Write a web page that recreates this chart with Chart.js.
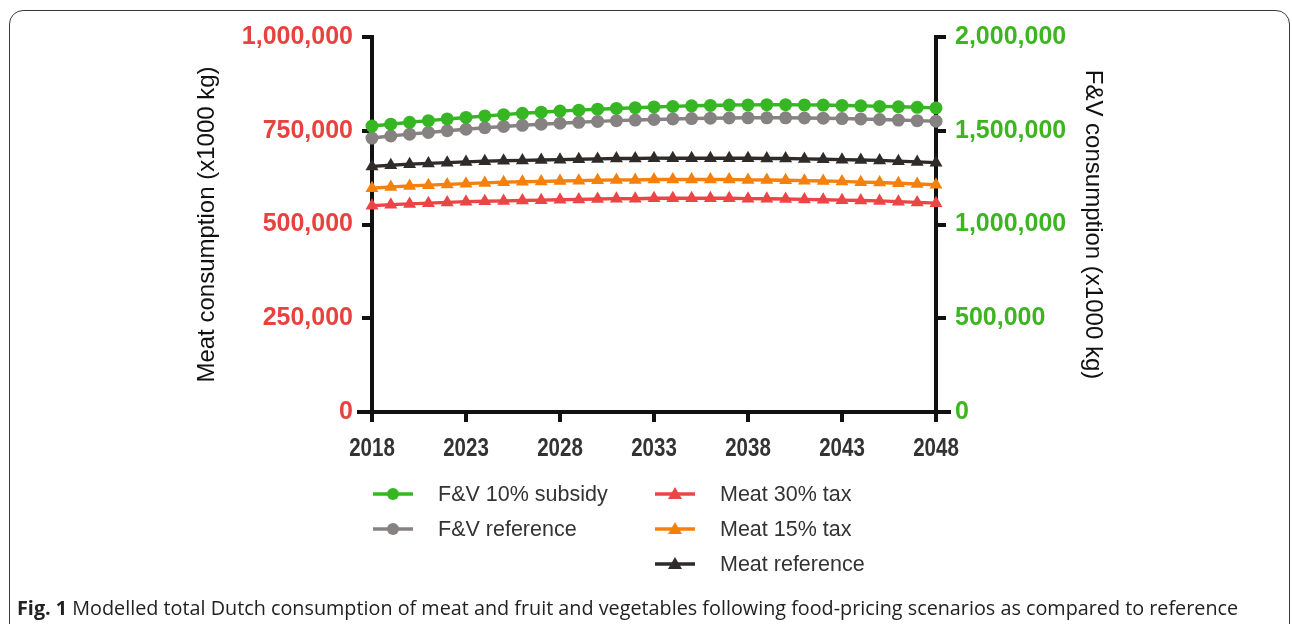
<!DOCTYPE html>
<html>
<head>
<meta charset="utf-8">
<title>Meat and F&amp;V consumption</title>
<script src="https://cdn.jsdelivr.net/npm/chart.js@4.4.1/dist/chart.umd.min.js"></script>
<style>
  html, body { margin: 0; padding: 0; background: #fff; }
  body { width: 1292px; height: 624px; position: relative; overflow: hidden; }
  #frame {
    position: absolute; left: 9px; top: 10px; width: 1281px; height: 700px;
    border: 1.5px solid #3a3a3a; border-radius: 14px; box-sizing: border-box;
  }
  #chart { position: absolute; left: 0; top: 0; }
  #caption {
    position: absolute; left: 17px; top: 594px; line-height: 27px;
    font-family: "Open Sans", sans-serif; font-size: 19.8px; color: #222; white-space: nowrap;
  }
  #caption b { font-weight: 700; }
</style>
</head>
<body>
<div id="frame"></div>
<canvas id="chart" width="1292" height="624"></canvas>
<div id="caption"><b>Fig. 1</b> Modelled total Dutch consumption of meat and fruit and vegetables following food-pricing scenarios as compared to reference</div>

<script>
// years 2018..2048
const years = [2018, 2019, 2020, 2021, 2022, 2023, 2024, 2025, 2026, 2027, 2028, 2029, 2030, 2031, 2032, 2033,
               2034, 2035, 2036, 2037, 2038, 2039, 2040, 2041, 2042, 2043, 2044, 2045, 2046, 2047, 2048];
const yearTicks = [2018, 2023, 2028, 2033, 2038, 2043, 2048];

// F&V consumption (x1000 kg), right axis
const fvSubsidy = [1525000, 1535000, 1545000, 1554000, 1563000, 1571000, 1579000, 1586000, 1593000, 1599000, 1605000,
                   1610000, 1615000, 1619000, 1623000, 1627000, 1630000, 1633000, 1635000, 1637000, 1638000,
                   1639000, 1639000, 1638000, 1637000, 1635000, 1633000, 1630000, 1628000, 1625000, 1622000];
const fvReference = [1461000, 1472000, 1482000, 1491000, 1500000, 1508000, 1516000, 1523000, 1529000, 1535000, 1540000,
                     1545000, 1550000, 1554000, 1557000, 1560000, 1563000, 1565000, 1567000, 1568000, 1569000,
                     1569000, 1569000, 1568000, 1567000, 1565000, 1563000, 1560000, 1557000, 1554000, 1551000];

// meat consumption (x1000 kg), left axis
const meatTax30 = [550000, 553000, 555000, 557000, 559000, 561000, 562000, 563000, 564000, 565000, 566000,
                   567000, 568000, 569000, 569000, 570000, 570000, 570000, 570000, 570000, 569000,
                   569000, 568000, 567000, 566000, 565000, 564000, 563000, 561000, 559000, 557000];
const meatTax15 = [597000, 600000, 603000, 605000, 607000, 609000, 611000, 613000, 614000, 615000, 616000,
                   617000, 618000, 619000, 619000, 620000, 620000, 620000, 620000, 620000, 619000,
                   619000, 618000, 617000, 616000, 615000, 613000, 612000, 610000, 608000, 606000];
const meatReference = [655000, 658000, 661000, 663000, 665000, 667000, 669000, 670000, 671000, 672000, 673000,
                       674000, 675000, 676000, 676000, 677000, 677000, 677000, 677000, 677000, 677000,
                       676000, 676000, 675000, 674000, 673000, 672000, 671000, 669000, 667000, 665000];

const meatTicks = [0, 250000, 500000, 750000, 1000000];
const fvTicks = [0, 500000, 1000000, 1500000, 2000000];

const GREEN = '#37b624';
const GREY = '#878282';
const RED = '#ec4545';
const ORANGE = '#f5800b';
const DARK = '#2e2b29';

function series(label, values, color, style, axis) {
  return {
    label: label,
    data: values.map((v, i) => ({ x: years[i], y: v })),
    yAxisID: axis,
    borderColor: color,
    backgroundColor: color,
    borderWidth: 3.5,
    pointStyle: style,
    pointRadius: style === 'circle' ? 6.5 : 7.5,
    pointBorderWidth: 0,
    tension: 0,
    clip: false
  };
}

const fmt = v => Number(v).toLocaleString('en-US');

// two-column legend under the plot
const legendPlugin = {
  id: 'splitLegend',
  afterDraw(chart) {
    const ctx = chart.ctx;
    const columns = [
      { x: 373, items: [0, 1] },
      { x: 655, items: [2, 3, 4] }
    ];
    const top = 494, step = 35;
    ctx.save();
    ctx.font = '21.5px "Liberation Sans", Arial, sans-serif';
    ctx.textBaseline = 'middle';
    columns.forEach(col => {
      col.items.forEach((idx, row) => {
        const ds = chart.data.datasets[idx];
        const y = top + row * step;
        const cx = col.x + 20;
        ctx.strokeStyle = ds.borderColor;
        ctx.lineWidth = 3.5;
        ctx.beginPath();
        ctx.moveTo(col.x, y);
        ctx.lineTo(col.x + 40, y);
        ctx.stroke();
        ctx.fillStyle = ds.borderColor;
        ctx.beginPath();
        if (ds.pointStyle === 'circle') {
          ctx.arc(cx, y, 6, 0, Math.PI * 2);
        } else {
          ctx.moveTo(cx, y - 7);
          ctx.lineTo(cx + 7, y + 5);
          ctx.lineTo(cx - 7, y + 5);
          ctx.closePath();
        }
        ctx.fill();
        ctx.fillStyle = '#333';
        ctx.fillText(ds.label, col.x + 65, y + 1);
      });
    });
    ctx.restore();
  }
};

// x axis line runs a little past both y axes; year labels are drawn narrow
const xAxisExtras = {
  id: 'xAxisExtras',
  afterDraw(chart) {
    const { ctx, chartArea } = chart;
    const xs = chart.scales.x;
    ctx.save();
    ctx.strokeStyle = '#111';
    ctx.lineWidth = 4;
    ctx.beginPath();
    ctx.moveTo(chartArea.left - 15, chartArea.bottom);
    ctx.lineTo(chartArea.right + 15, chartArea.bottom);
    ctx.stroke();

    ctx.fillStyle = '#333';
    ctx.font = 'bold 25px "Liberation Sans", Arial, sans-serif';
    ctx.textAlign = 'center';
    ctx.textBaseline = 'alphabetic';
    yearTicks.forEach(t => {
      ctx.save();
      ctx.translate(xs.getPixelForValue(t), chartArea.bottom + 44);
      ctx.scale(0.82, 1);
      ctx.fillText(String(t), 0, 0);
      ctx.restore();
    });
    ctx.restore();
  }
};

const axisLine = { display: true, color: '#111', width: 4 };
const tickMarks = { drawOnChartArea: false, drawTicks: true, tickLength: 10, tickColor: '#111', tickWidth: 4, lineWidth: 0 };
const titleFont = { family: '"Liberation Sans", Arial, sans-serif', size: 24 };
const valueFont = { family: '"Liberation Sans", Arial, sans-serif', weight: 'bold', size: 25 };

new Chart(document.getElementById('chart'), {
  type: 'line',
  data: {
    datasets: [
      series('F&V 10% subsidy', fvSubsidy, GREEN, 'circle', 'y2'),
      series('F&V reference', fvReference, GREY, 'circle', 'y2'),
      series('Meat 30% tax', meatTax30, RED, 'triangle', 'y'),
      series('Meat 15% tax', meatTax15, ORANGE, 'triangle', 'y'),
      series('Meat reference', meatReference, DARK, 'triangle', 'y')
    ]
  },
  options: {
    responsive: false,
    animation: false,
    layout: { padding: { left: 193, right: 185, top: 37, bottom: 0 } },
    plugins: {
      legend: { display: false },
      tooltip: { enabled: false }
    },
    scales: {
      x: {
        type: 'linear',
        min: 2018,
        max: 2048,
        border: axisLine,
        grid: tickMarks,
        afterBuildTicks: s => { s.ticks = yearTicks.map(v => ({ value: v })); },
        afterFit: s => { s.height = 212; },
        ticks: { display: false }
      },
      y: {
        position: 'left',
        min: 0,
        max: 1000000,
        border: axisLine,
        grid: tickMarks,
        afterBuildTicks: s => { s.ticks = meatTicks.map(v => ({ value: v })); },
        afterFit: s => { s.width = 179; },
        ticks: { padding: 9, color: '#e8423e', font: valueFont, callback: fmt },
        title: { display: true, text: 'Meat consumption (x1000 kg)', color: '#111', padding: 0, font: titleFont }
      },
      y2: {
        position: 'right',
        min: 0,
        max: 2000000,
        border: axisLine,
        grid: tickMarks,
        afterBuildTicks: s => { s.ticks = fvTicks.map(v => ({ value: v })); },
        afterFit: s => { s.width = 171; },
        ticks: { padding: 9, color: '#3cb521', font: valueFont, callback: fmt },
        title: { display: true, text: 'F&V consumption (x1000 kg)', color: '#111', padding: 0, font: titleFont }
      }
    }
  },
  plugins: [legendPlugin, xAxisExtras]
});
</script>
</body>
</html>
